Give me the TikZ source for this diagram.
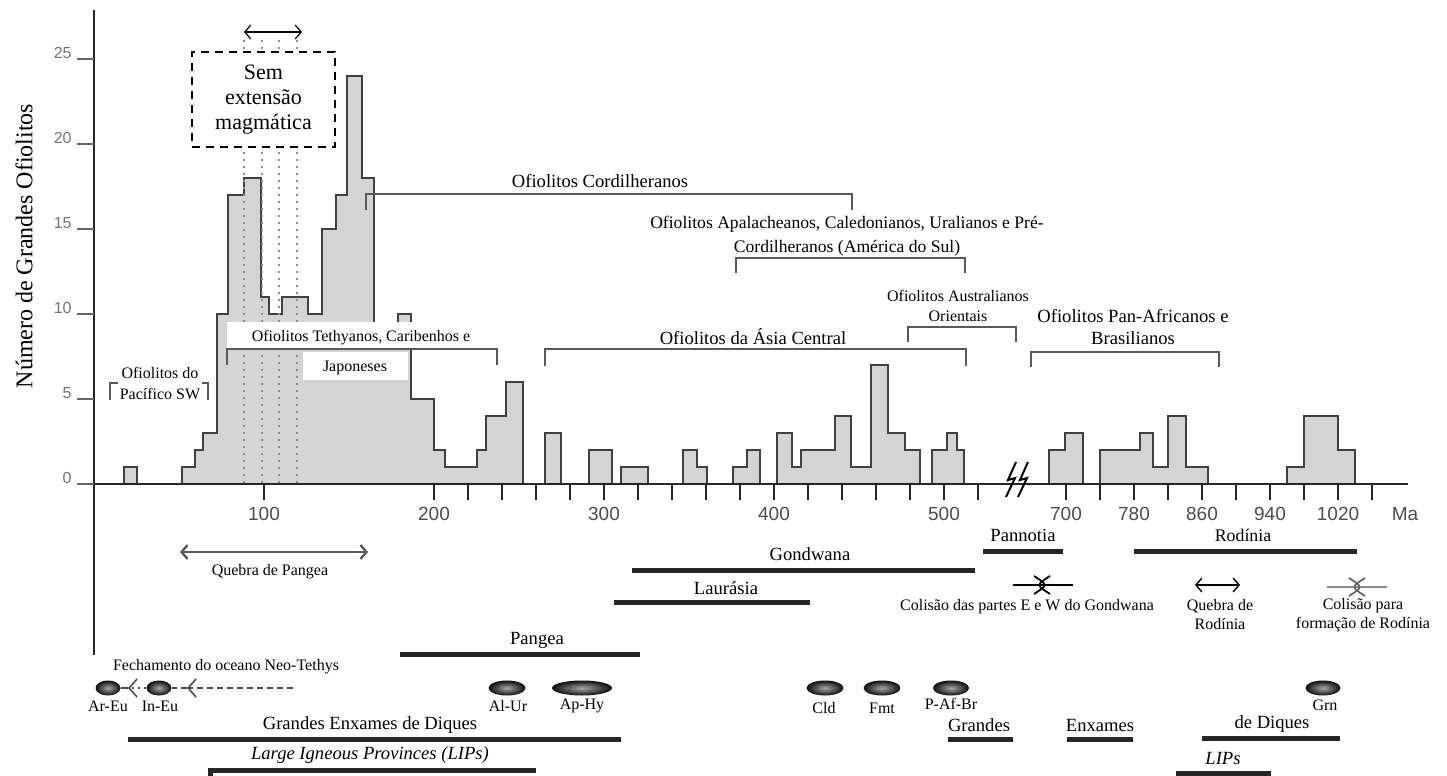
\documentclass[tikz,border=0pt]{standalone}
\usepackage{fontspec}
\setmainfont{Liberation Serif}
\setsansfont{Liberation Sans}
\usetikzlibrary{arrows.meta,shapes.geometric}
\tikzset{
    hist/.style={fill=black!17, draw=black!75, line width=1pt},
    brk/.style={draw=black!65, line width=0.8pt},
    era/.style={draw=black!85, line width=2.5pt},
    axisline/.style={draw=black!85, line width=1.1pt},
    lab/.style={font=\fontsize{9.3}{11}\selectfont, align=center, inner sep=1pt},
    slab/.style={font=\fontsize{8}{9.5}\selectfont, align=center, inner sep=1pt},
    ynum/.style={font=\sffamily\fontsize{8}{9}\selectfont, text=black!55, anchor=east, inner sep=0pt},
    xnum/.style={font=\sffamily\fontsize{9.5}{10}\selectfont, text=black!70, inner sep=0pt},
    orb/.style={ellipse, minimum height=7.5pt, inner sep=0pt, inner color=black!35, outer color=black!95},
    barb/.style={{Straight Barb[length=3pt,width=7pt]}-{Straight Barb[length=3pt,width=7pt]}},
}
\begin{document}
\begin{tikzpicture}[x=0.5pt,y=-0.5pt]
    \useasboundingbox (0,0) rectangle (1447,776);
    %Histogram
    \begin{scope}[shift={(0,484)},yscale=-17]
        \draw[hist] (124,0) |- (137,1) -- (137,0) -- cycle;
        \draw[hist] (182,0) |- (195,1) |- (203,2) |- (217,3) |- (228,10) |- (244,17) |- (261,18) |- (269,11) |- (282,10) |- (308,11) |- (322,10) |- (336,15) |- (347,17) |- (362,24) |- (374,18) |- (398,8) |- (411,10) |- (434,5) |- (445,2) |- (477,1) |- (486,2) |- (506,4) |- (523,6) -- (523,0) -- cycle;
        \draw[hist] (545,0) |- (561,3) -- (561,0) -- cycle;
        \draw[hist] (589,0) |- (612,2) -- (612,0) -- cycle;
        \draw[hist] (621,0) |- (648,1) -- (648,0) -- cycle;
        \draw[hist] (683,0) |- (697,2) |- (707,1) -- (707,0) -- cycle;
        \draw[hist] (733,0) |- (747,1) |- (760,2) -- (760,0) -- cycle;
        \draw[hist] (777,0) |- (792,3) |- (801,1) |- (835,2) |- (851,4) |- (871,1) |- (888,7) |- (905,3) |- (920,2) -- (920,0) -- cycle;
        \draw[hist] (932,0) |- (947,2) |- (957,3) |- (964,2) -- (964,0) -- cycle;
        \draw[hist] (1049,0) |- (1065,2) |- (1083,3) -- (1083,0) -- cycle;
        \draw[hist] (1100,0) |- (1140,2) |- (1153,3) |- (1168,1) |- (1186,4) |- (1208,1) -- (1208,0) -- cycle;
        \draw[hist] (1287,0) |- (1304,1) |- (1338,4) |- (1355,2) -- (1355,0) -- cycle;
    \end{scope}
    \foreach \x in {244,262,279,297}
        \draw[black!45, line width=1pt, dash pattern=on 1pt off 2.5pt] (\x,40) -- (\x,484);
    %Axes
    \draw[axisline] (94,10) -- (94,655);
    \draw[axisline] (94,484) -- (1408,484);
    \foreach \v in {0,5,...,25} {
        \draw[axisline, black!60] (77,{484-17*\v}) -- (94,{484-17*\v});
        \node[ynum] (y\v) at (72,{478-17*\v}) {\v};
    }
    \foreach \t in {100,200,220,...,520}
        \draw[axisline] ({94+1.7*\t},484) -- ++(0,16);
    \foreach \t in {700,740,...,1060}
        \draw[axisline] ({1066+0.85*(\t-700)},484) -- ++(0,16);
    \foreach \t in {100,200,...,500}
        \node[xnum] (x\t) at ({94+1.7*\t},514) {\t};
    \foreach \t in {700,780,...,1020}
        \node[xnum] (x\t) at ({1066+0.85*(\t-700)},514) {\t};
    \node[xnum] (ma) at (1405,514) {Ma};
    \draw[line width=1pt] (1016,462) -- (1008,480) -- (1015,478) -- (1006,497);
    \draw[line width=1pt] (1028,462) -- (1020,480) -- (1027,478) -- (1018,497);
    \node[rotate=90, font=\fontsize{12}{14}\selectfont] (ylabel) at (24,246) {Número de Grandes Ofiolitos};
    %Brackets
    \draw[brk] (366,210) -- (366,194) -- (852,194) -- (852,210);
    \draw[brk] (736,273) |- (965,258) -- (965,273);
    \draw[brk] (908,342) |- (1016,327) -- (1016,342);
    \draw[brk] (545,366) |- (966,349) -- (966,366);
    \draw[brk] (1031,367) |- (1219,352) -- (1219,367);
    \draw[brk] (110,400) |- (208,383) -- (208,400);
    \fill[white] (227,322) rectangle (413,348);
    \fill[white] (303,352) rectangle (408,380);
    \draw[brk] (227,365) |- (497,349) -- (497,365);
    %Labels of the ophiolite groups
    \node[lab] (cordil) at (600,181) {Ofiolitos Cordilheranos};
    \node[lab, font=\fontsize{8.8}{12}\selectfont] (apal) at (847,236) {Ofiolitos Apalacheanos, Caledonianos, Uralianos e Pré-\\Cordilheranos (América do Sul)};
    \node[slab, font=\fontsize{8}{10}\selectfont] (austr) at (958,306) {Ofiolitos Australianos\\Orientais};
    \node[lab] (asia) at (753,337) {Ofiolitos da Ásia Central};
    \node[lab] (panaf) at (1133,327) {Ofiolitos Pan-Africanos e\\Brasilianos};
    \node[slab] (tethys) at (361,338) {Ofiolitos Tethyanos, Caribenhos e};
    \node[slab] (japon) at (355,368) {Japoneses};
    \node[slab, fill=white, font=\fontsize{8}{10.5}\selectfont] (pacif) at (160,383) {Ofiolitos do\\Pacífico SW};
    %No magmatic extension
    \node[draw, fill=white, line width=1pt, dash pattern=on 4pt off 3pt, minimum width=71.5pt, minimum height=47.5pt,
        align=center, font=\fontsize{11}{12.5}\selectfont] (nomag) at (263.5,99.5) {Sem\\extensão\\magmática};
    \coordinate (nomagL) at (244,32);
    \coordinate (nomagR) at (302,32);
    \draw[barb, line width=0.6pt] (nomagL) -- (nomagR);
    %Supercontinents
    \coordinate (qpL) at (180,552);
    \coordinate (qpR) at (368,552);
    \draw[barb, black!65, line width=1.2pt] (qpL) -- (qpR);
    \node[slab] (qpangea) at (270,572) {Quebra de Pangea};
    \node[lab] (pannotia) at (1023,535) {Pannotia};
    \draw[era] (983,551) -- (1063,551);
    \node[lab, font=\fontsize{8.9}{11}\selectfont] (rodinia) at (1243,535) {Rodínia};
    \draw[era] (1134,551) -- (1357,551);
    \node[lab] (gondwana) at (810,554) {Gondwana};
    \draw[era] (632,570) -- (975,570);
    \node[lab] (laurasia) at (726,588) {Laurásia};
    \draw[era] (614,602) -- (810,602);
    \node[lab] (pangea) at (537,640) {Pangea};
    \draw[era] (400,654) -- (640,654);
    %Collisions and break-up
    \draw[line width=0.6pt] (1013,585) -- (1073,585);
    \draw[line width=0.9pt] (1034,576) .. controls (1048,585) .. (1034,594);
    \draw[line width=0.9pt] (1050,576) .. controls (1036,585) .. (1050,594);
    \node[slab] (colEW) at (1027,607) {Colisão das partes E e W do Gondwana};
    \coordinate (qrL) at (1195,585);
    \coordinate (qrR) at (1240,585);
    \draw[barb, line width=0.7pt] (qrL) -- (qrR);
    \node[slab, font=\fontsize{8}{9.5}\selectfont] (qrod) at (1220,615) {Quebra de\\Rodínia};
    \draw[black!45, line width=0.8pt] (1327,587) -- (1387,587);
    \draw[black!60, line width=0.9pt] (1349,578) .. controls (1363,587) .. (1349,596);
    \draw[black!60, line width=0.9pt] (1365,578) .. controls (1351,587) .. (1365,596);
    \node[slab, font=\fontsize{8}{9.5}\selectfont] (colrod) at (1363,615) {Colisão para\\formação de Rodínia};
    %Dike swarms and LIPs
    \node[slab] (neotethys) at (226,667) {Fechamento do oceano Neo-Tethys};
    \node[orb, minimum width=12.5pt] (ArEu) at (108,688) {};
    \node[orb, minimum width=12.5pt] (InEu) at (159,688) {};
    \node[orb, minimum width=18.5pt] (AlUr) at (507,688) {};
    \node[orb, minimum width=30pt] (ApHy) at (582,688) {};
    \node[orb, minimum width=18.5pt] (Cld) at (825,688) {};
    \node[orb, minimum width=18.5pt] (Fmt) at (882,688) {};
    \node[orb, minimum width=18pt] (PAfBr) at (951,688) {};
    \node[orb, minimum width=17.5pt] (Grn) at (1323,688) {};
    \coordinate (tethysEnd) at (293,688);
    \coordinate (tipA) at (187,688);
    \coordinate (tipB) at (128,688);
    \draw[black!70, line width=0.8pt, dash pattern=on 3pt off 2pt, -{Straight Barb[length=4pt,width=9pt]}] (tethysEnd) -- (tipA);
    \draw[black!70, line width=0.8pt, dash pattern=on 3pt off 2pt] (tipA) -- (InEu.east);
    \draw[black!70, line width=0.8pt, dash pattern=on 1pt off 2pt, -{Straight Barb[length=4pt,width=9pt]}] (InEu.west) -- (tipB);
    \draw[black!70, line width=0.8pt] (tipB) -- (ArEu.east);
    \node[slab] (lArEu) at (108,706) {Ar-Eu};
    \node[slab] (lInEu) at (160,706) {In-Eu};
    \node[slab] (lAlUr) at (508,706) {Al-Ur};
    \node[slab] (lApHy) at (582,706) {Ap-Hy};
    \node[slab] (lCld) at (824,708) {Cld};
    \node[slab] (lFmt) at (882,708) {Fmt};
    \node[slab] (lPAfBr) at (951,704) {P-Af-Br};
    \node[slab] (lGrn) at (1325,705) {Grn};
    \node[lab] (genx) at (370,725) {Grandes Enxames de Diques};
    \draw[era] (128,739) -- (621,739);
    \node[lab, font=\itshape\fontsize{9.3}{11}\selectfont] (lips) at (370,755) {Large Igneous Provinces (LIPs)};
    \draw[era] (210,776) |- (536,770);
    \node[lab] (grandes) at (979,725) {Grandes};
    \draw[era] (948,739) -- (1013,739);
    \node[lab] (enxames) at (1100,725) {Enxames};
    \draw[era] (1067,739) -- (1133,739);
    \node[lab] (dediques) at (1272,724) {de Diques};
    \draw[era] (1202,738) -- (1340,738);
    \node[lab, font=\itshape\fontsize{9.3}{11}\selectfont] (lipsR) at (1223,758) {LIPs};
    \draw[era] (1176,773) -- (1271,773);
\end{tikzpicture}
\end{document}
